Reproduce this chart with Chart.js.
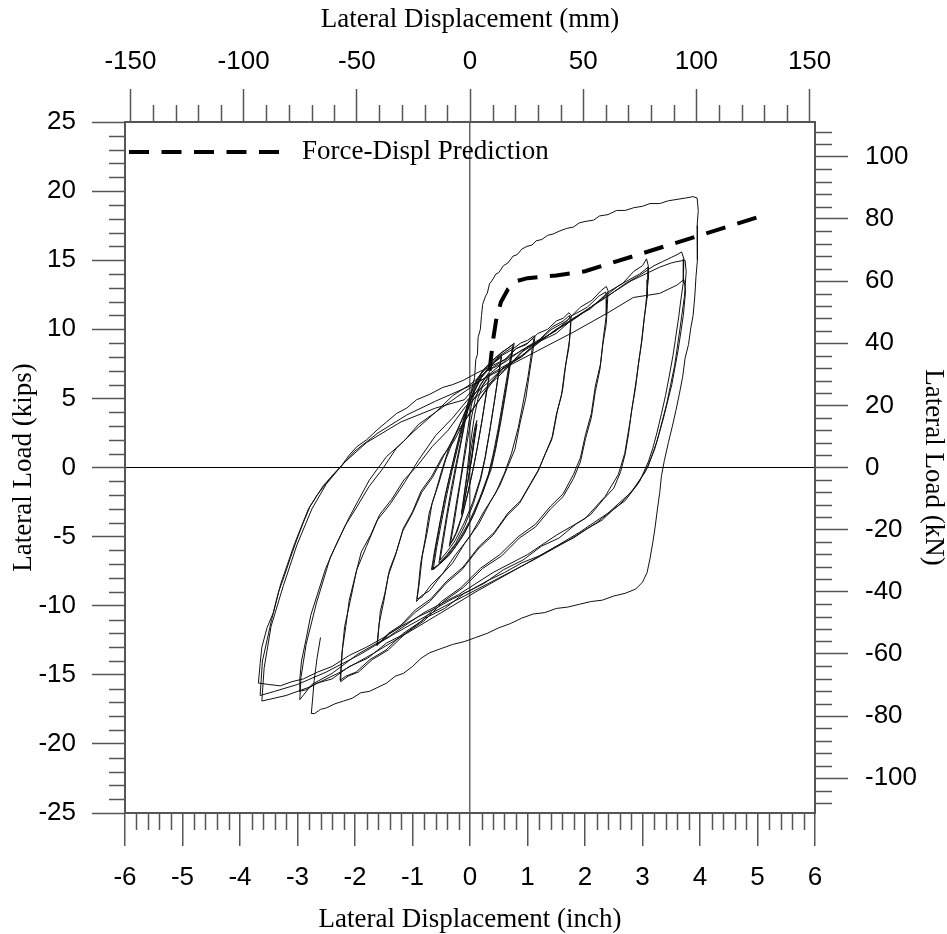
<!DOCTYPE html>
<html><head><meta charset="utf-8">
<script src="https://cdn.jsdelivr.net/npm/chart.js@4.4.0/dist/chart.umd.min.js"></script>
<style>html,body{margin:0;padding:0;background:#fff;overflow:hidden}canvas{display:block}</style>
</head><body>
<canvas id="c" width="947" height="934"></canvas>
<script>
// ---- axis tick values ----
const inchTicks = [-6,-5,-4,-3,-2,-1,0,1,2,3,4,5,6];
const mmTicks = [-150,-100,-50,0,50,100,150];
const kipTicks = [-25,-20,-15,-10,-5,0,5,10,15,20,25];
const kNTicks = [-100,-80,-60,-40,-20,0,20,40,60,80,100];
const MM_PER_IN = 25.4;
const KN_PER_KIP = 4.448;

// ---- prediction (inch, kips) ----
const predDispl = [0.34,0.4,0.46,0.54,0.66,0.82,1.0,1.5,2.0,3.0,4.0,5.0];
const predLoad  = [7.0,9.2,10.8,12.0,12.9,13.5,13.7,13.9,14.2,15.5,16.8,18.1];

// ---- measured hysteresis (inch, kips) ----
const cyclesSmall = [
[0,0],[0.04,1.0],[0.07,2.1],[0.1,2.8],[0.12,3.1],[0.08,2.0],[0.03,0.6],[-0.03,-0.8],[-0.08,-2.0],[-0.12,-2.9],[-0.14,-3.2],[-0.1,-2.0],[-0.05,-0.6],
[0.0,0.8],[0.05,2.1],[0.09,3.0],[0.12,3.4],[0.07,2.0],[0.02,0.5],[-0.04,-1.1],[-0.1,-2.5],[-0.15,-3.4],[-0.11,-2.2],[-0.06,-0.7],[-0.02,0.9],
[0.03,2.4],[0.08,3.8],[0.14,5.0],[0.22,5.9],[0.3,6.4],[0.33,6.5],[0.27,5.0],[0.2,3.2],[0.12,1.3],[0.06,0.0],[-0.03,-1.7],[-0.12,-3.3],[-0.22,-4.6],[-0.3,-5.3],[-0.34,-5.5],[-0.28,-4.1],[-0.22,-2.5],[-0.16,-0.9],[-0.1,0.6],[-0.04,2.1],
[0.02,3.5],[0.09,4.9],[0.18,6.0],[0.28,6.6],[0.34,6.8],[0.28,5.3],[0.21,3.4],[0.13,1.5],[0.06,0.0],[-0.04,-1.9],[-0.14,-3.5],[-0.25,-4.8],[-0.36,-5.7],[-0.3,-4.2],[-0.23,-2.4],[-0.16,-0.7],[-0.1,1.0],
[-0.04,2.7],[0.02,4.4],[0.08,5.6],[0.18,6.5],[0.3,7.1],[0.42,7.6],[0.52,7.9],[0.55,8.0],[0.49,6.6],[0.42,4.7],[0.34,2.6],[0.26,0.7],[0.18,-0.8],[0.05,-2.5],[-0.1,-4.0],[-0.26,-5.3],[-0.4,-6.1],[-0.5,-6.6],[-0.52,-6.7],[-0.46,-5.2],[-0.39,-3.4],[-0.31,-1.6],[-0.24,0.0],[-0.16,1.7],[-0.08,3.4],
[0.0,4.8],[0.09,5.9],[0.2,6.8],[0.33,7.4],[0.46,7.9],[0.55,8.2],[0.5,6.9],[0.43,4.9],[0.35,2.8],[0.27,0.8],[0.19,-0.8],[0.06,-2.6],[-0.09,-4.2],[-0.25,-5.5],[-0.42,-6.4],[-0.54,-6.9],[-0.48,-5.3],[-0.4,-3.3],[-0.32,-1.4],[-0.24,0.3],[-0.15,2.1],
[-0.07,3.9],[0.02,5.4],[0.12,6.4],[0.26,7.2],[0.4,7.8],[0.55,8.3],[0.68,8.7],[0.75,8.9],[0.7,7.6],[0.62,5.6],[0.53,3.4],[0.44,1.4],[0.36,0.0],[0.24,-1.6],[0.08,-3.3],[-0.1,-4.8],[-0.28,-5.9],[-0.45,-6.7],[-0.6,-7.2],[-0.66,-7.4],[-0.6,-5.9],[-0.52,-4.0],[-0.43,-2.1],[-0.34,-0.4],[-0.24,1.4],[-0.13,3.2],
[-0.03,4.8],[0.08,6.0],[0.22,7.0],[0.38,7.7],[0.54,8.3],[0.68,8.7],[0.77,9.0],[0.71,7.7],[0.63,5.6],[0.54,3.4],[0.45,1.4],[0.37,-0.1],[0.22,-1.8],[0.04,-3.6],[-0.15,-5.1],[-0.35,-6.3],[-0.53,-7.0],[-0.64,-7.4],[-0.58,-5.8],[-0.49,-3.8],[-0.4,-1.9],[-0.31,-0.2],[-0.2,1.7],
[-0.08,3.6],[0.05,5.3],[0.2,6.6],[0.38,7.5],[0.56,8.2],[0.7,8.6],[0.74,8.7],[0.67,7.2],[0.58,5.0],[0.49,2.8],[0.4,0.9],[0.32,-0.5],[0.17,-2.2],[-0.01,-3.9],[-0.2,-5.3],[-0.4,-6.4],[-0.57,-7.1],[-0.67,-7.4],[-0.61,-5.9],[-0.52,-3.9],[-0.43,-2.0],[-0.33,-0.2],[-0.22,1.6]
];
const cycles1in = [
[-0.08,3.8],[0.05,5.3],[0.2,6.5],[0.38,7.4],[0.55,8.1],[0.72,8.5],[0.88,9.0],[1.0,9.2],[1.1,9.5],[1.13,9.5],[1.1,8.6],[1.04,7.0],[0.97,5.0],[0.87,3.2],[0.78,1.3],[0.66,0.1],[0.52,-1.3],[0.35,-2.5],[0.15,-4.1],[-0.08,-5.4],[-0.3,-6.9],[-0.5,-7.8],[-0.7,-8.9],[-0.85,-9.3],[-0.93,-9.7],[-0.9,-8.7],[-0.86,-7.0],[-0.78,-5.2],[-0.71,-3.3],[-0.6,-1.8],[-0.49,-0.2],[-0.36,1.5],[-0.2,2.9],[-0.03,4.6],[0.16,5.8],[0.38,7.2],[0.6,7.8],[0.8,8.6],[0.98,8.9],[1.08,9.3],[1.11,9.3],[1.07,8.3],[1.01,6.6],[0.92,4.6],[0.84,2.9],[0.72,1.0],[0.6,-0.4],[0.44,-1.9],[0.24,-3.2],[0.0,-5.0],[-0.25,-6.3],[-0.48,-7.7],[-0.68,-8.5],[-0.84,-9.4],[-0.92,-9.5],[-0.88,-8.3],[-0.83,-6.4],[-0.74,-4.6],[-0.66,-2.6],[-0.54,-1.1],[-0.42,0.6]
];
const cycles175in = [
[-0.26,2.3],[-0.08,4.0],[0.12,5.3],[0.35,6.8],[0.58,7.6],[0.8,8.6],[1.0,9.0],[1.18,9.7],[1.35,10.0],[1.5,10.6],[1.62,10.8],[1.72,11.2],[1.76,11.0],[1.75,10.1],[1.72,8.7],[1.65,7.1],[1.59,5.2],[1.5,3.8],[1.42,2.0],[1.3,0.9],[1.18,-0.3],[1.04,-1.3],[0.86,-2.6],[0.64,-3.5],[0.4,-4.9],[0.14,-5.9],[-0.14,-7.4],[-0.42,-8.4],[-0.7,-9.7],[-0.96,-10.5],[-1.2,-11.5],[-1.4,-12.0],[-1.54,-12.6],[-1.61,-12.8],[-1.59,-11.8],[-1.56,-10.4],[-1.48,-9.1],[-1.4,-7.4],[-1.28,-6.1],[-1.16,-4.4],[-1.0,-3.2],[-0.85,-1.7],[-0.66,-0.6],[-0.48,0.8],[-0.28,1.9],[-0.05,3.7],[0.2,5.1],[0.46,6.6],[0.72,7.5],[0.98,8.7],[1.22,9.3],[1.44,10.2],[1.62,10.6],[1.73,11.0],[1.75,10.5],[1.73,9.2],[1.67,7.6],[1.61,5.6],[1.52,4.1],[1.44,2.3],[1.32,1.1],[1.2,-0.1],[1.06,-1.1],[0.88,-2.4],[0.66,-3.3],[0.42,-4.7],[0.16,-5.7],[-0.12,-7.2],[-0.4,-8.2],[-0.68,-9.5],[-0.95,-10.3],[-1.2,-11.4],[-1.42,-12.0],[-1.58,-12.7],[-1.62,-12.9],[-1.58,-11.3],[-1.5,-9.7],[-1.42,-7.8],[-1.3,-6.4],[-1.17,-4.6],[-1.0,-3.3],[-0.84,-1.8],[-0.65,-0.7]
];
const cycles24in = [
[-0.45,0.9],[-0.22,2.6],[0.05,4.2],[0.32,5.9],[0.6,7.0],[0.88,8.3],[1.15,9.0],[1.42,10.0],[1.68,10.6],[1.92,11.6],[2.12,12.1],[2.28,12.8],[2.37,13.1],[2.4,12.8],[2.39,11.8],[2.37,10.4],[2.31,8.9],[2.26,7.1],[2.18,5.5],[2.11,3.6],[2.01,2.1],[1.92,0.4],[1.8,-0.8],[1.62,-2.1],[1.4,-3.0],[1.14,-4.3],[0.86,-5.1],[0.55,-6.4],[0.22,-7.3],[-0.12,-8.7],[-0.46,-9.7],[-0.8,-11.1],[-1.12,-12.0],[-1.42,-13.2],[-1.7,-13.9],[-1.94,-14.8],[-2.12,-15.1],[-2.25,-15.5],[-2.24,-14.6],[-2.22,-13.2],[-2.16,-11.5],[-2.1,-9.6],[-2.0,-7.9],[-1.89,-6.1],[-1.73,-4.9],[-1.57,-3.4],[-1.36,-2.3],[-1.15,-0.9],[-0.92,0.1],[-0.66,1.5],[-0.38,2.7],[-0.08,4.4],[0.24,5.6],[0.56,7.1],[0.88,8.0],[1.2,9.2],[1.5,9.9],[1.78,11.0],[2.04,11.6],[2.24,12.4],[2.36,12.7],[2.38,12.2],[2.37,11.0],[2.32,9.4],[2.27,7.5],[2.18,5.9],[2.11,3.9],[2.01,2.4],[1.92,0.7],[1.8,-0.5],[1.62,-1.9],[1.4,-2.8],[1.14,-4.1],[0.84,-5.0],[0.52,-6.3],[0.18,-7.3],[-0.16,-8.7],[-0.5,-9.7],[-0.84,-11.1],[-1.16,-12.0],[-1.46,-13.2],[-1.74,-13.9],[-1.98,-14.8],[-2.16,-15.1],[-2.26,-15.4],[-2.23,-13.6],[-2.18,-11.5],[-2.08,-9.6],[-1.97,-7.4],[-1.8,-5.7],[-1.61,-3.8],[-1.38,-2.6],[-1.14,-1.1]
];
const cycles31in = [
[-0.9,0.5],[-0.6,2.3],[-0.3,3.6],[0.0,5.1],[0.3,6.1],[0.6,7.3],[0.9,8.0],[1.2,9.1],[1.5,9.7],[1.8,10.8],[2.1,11.5],[2.4,12.7],[2.65,13.3],[2.85,14.2],[3.0,14.6],[3.07,15.1],[3.1,14.6],[3.09,13.6],[3.08,12.3],[3.03,10.8],[2.99,9.2],[2.93,7.5],[2.88,5.8],[2.81,4.1],[2.76,2.5],[2.7,1.0],[2.62,-0.3],[2.5,-1.5],[2.32,-2.3],[2.1,-3.4],[1.84,-4.1],[1.55,-5.1],[1.24,-5.7],[0.92,-6.7],[0.58,-7.4],[0.24,-8.4],[-0.1,-9.1],[-0.44,-10.2],[-0.78,-10.9],[-1.12,-12.0],[-1.45,-12.7],[-1.78,-13.8],[-2.1,-14.4],[-2.4,-15.3],[-2.66,-15.6],[-2.86,-16.1],[-2.97,-16.2],[-2.96,-15.3],[-2.93,-14.0],[-2.85,-12.4],[-2.77,-10.7],[-2.64,-9.0],[-2.51,-7.3],[-2.34,-5.7],[-2.17,-4.2],[-1.96,-2.8],[-1.76,-1.4],[-1.52,-0.1],[-1.28,1.4],[-0.98,2.6],[-0.6,4.0],[-0.23,5.1],[0.3,6.6],[0.9,8.1],[1.5,10.0],[2.1,11.6],[2.6,13.2],[2.95,14.0],[3.1,14.5],[3.1,13.6],[3.05,11.5],[2.98,9.0],[2.89,6.3],[2.79,3.5],[2.69,1.0],[2.58,-0.5],[2.35,-2.1],[2.0,-3.7],[1.5,-4.9],[1.0,-6.3],[0.4,-7.6],[-0.2,-9.2],[-0.8,-10.5],[-1.4,-12.2],[-1.95,-13.5],[-2.4,-14.9],[-2.75,-15.7],[-2.96,-16.8],[-2.94,-15.2],[-2.85,-12.8],[-2.67,-9.8],[-2.43,-6.5],[-2.1,-3.6],[-1.75,-0.9]
];
const cycles37in = [
[-1.45,0.8],[-1.15,1.9],[-0.9,3.1],[-0.6,4.0],[-0.3,5.2],[0.0,6.0],[0.3,7.0],[0.6,7.6],[0.9,8.5],[1.2,9.1],[1.5,10.0],[1.8,10.7],[2.1,11.6],[2.4,12.4],[2.7,13.3],[2.95,13.9],[3.2,14.6],[3.35,14.9],[3.5,15.2],[3.6,15.4],[3.68,15.6],[3.72,15.1],[3.71,13.4],[3.66,11.9],[3.63,10.9],[3.57,9.2],[3.53,8.1],[3.46,6.5],[3.4,5.2],[3.33,3.9],[3.25,2.5],[3.18,1.4],[3.1,0.4],[2.95,-1.0],[2.7,-2.4],[2.5,-3.0],[2.3,-3.8],[2.05,-4.4],[1.8,-5.1],[1.5,-5.7],[1.2,-6.4],[0.9,-6.9],[0.6,-7.6],[0.3,-8.2],[0.0,-8.9],[-0.3,-9.5],[-0.6,-10.2],[-0.9,-10.8],[-1.2,-11.5],[-1.5,-12.3],[-1.8,-13.0],[-2.1,-13.6],[-2.4,-14.4],[-2.65,-14.8],[-2.9,-15.3],[-3.1,-15.5],[-3.3,-15.8],[-3.5,-15.7],[-3.68,-15.6],[-3.65,-14.2],[-3.62,-13.0],[-3.53,-11.6],[-3.42,-10.5],[-3.33,-9.0],[-3.25,-8.1],[-3.12,-6.5],[-3.01,-5.2],[-2.9,-4.0],[-2.78,-2.8],[-2.66,-2.0],[-2.55,-1.4],[-2.4,-0.6],[-2.24,0.1],[-2.1,0.9],[-1.97,1.5],[-1.8,2.0],[-1.62,2.7],[-1.45,3.3],[-1.28,3.9],[-1.1,4.3],[-0.93,4.9],[-0.7,5.3],[-0.47,5.8],[-0.3,6.0],[-0.12,6.3],[0.1,6.8],[0.4,7.4],[0.7,8.0],[1.0,8.7],[1.3,9.4],[1.6,10.2],[1.9,11.0],[2.2,11.9],[2.5,12.7],[2.8,13.5],[3.05,14.0],[3.3,14.5],[3.5,14.8],[3.6,14.9],[3.74,15.0],[3.76,14.2],[3.73,12.4],[3.65,10.0],[3.56,7.4],[3.42,4.6],[3.26,2.0],[3.1,0.1],[2.9,-1.3],[2.6,-2.7],[2.2,-4.0],[1.7,-5.3],[1.1,-6.7],[0.5,-8.0],[-0.1,-9.3],[-0.7,-10.6],[-1.3,-12.0],[-1.9,-13.5],[-2.5,-14.8],[-3.0,-15.7],[-3.4,-16.2],[-3.65,-16.5],[-3.61,-14.0],[-3.45,-11.0],[-3.29,-8.4],[-3.05,-5.5],[-2.81,-3.0],[-2.55,-1.3],[-2.26,0.0],[-2.0,1.2],[-1.6,2.5],[-1.1,3.8],[-0.6,4.8],[0.0,5.9],[0.6,7.2],[1.2,8.5],[1.8,9.8],[2.4,11.2],[2.84,12.3],[3.3,12.6],[3.6,13.2],[3.72,13.6],[3.75,12.8],[3.71,11.0],[3.62,8.5],[3.51,6.0],[3.36,3.5],[3.21,1.3],[3.05,-0.3],[2.8,-1.8],[2.4,-3.3],[1.9,-4.7],[1.3,-6.2],[0.7,-7.6],[0.1,-9.0],[-0.5,-10.5],[-1.1,-12.0],[-1.7,-13.5],[-2.3,-14.9],[-2.8,-15.9],[-3.2,-16.5],[-3.62,-16.9],[-3.58,-14.5],[-3.46,-11.5],[-3.25,-8.6],[-3.01,-5.6],[-2.75,-3.0],[-2.5,-1.2],[-2.2,0.3],[-1.8,1.8],[-1.2,3.3],[-0.6,4.3],[-0.1,4.9]
];
const finalCycle = [
[0.02,5.5],[0.08,6.5],[0.1,7.8],[0.13,8.2],[0.14,9.4],[0.18,10.0],[0.2,11.0],[0.22,11.8],[0.27,12.4],[0.3,12.6],[0.34,13.3],[0.38,13.5],[0.45,14.0],[0.5,14.1],[0.58,14.6],[0.66,14.8],[0.75,15.3],[0.82,15.4],[0.9,15.8],[0.99,16.0],[1.08,16.1],[1.15,16.4],[1.25,16.5],[1.35,16.8],[1.45,16.9],[1.55,17.1],[1.68,17.3],[1.8,17.4],[1.9,17.7],[2.0,17.8],[2.15,17.9],[2.25,18.2],[2.4,18.3],[2.55,18.6],[2.7,18.6],[2.85,18.8],[3.0,18.9],[3.13,19.1],[3.3,19.1],[3.45,19.3],[3.6,19.4],[3.75,19.5],[3.88,19.6],[3.95,19.5],[3.97,18.6],[3.95,17.5],[3.96,16.2],[3.95,15.0],[3.93,13.8],[3.91,12.4],[3.88,11.0],[3.84,10.1],[3.8,8.9],[3.74,7.9],[3.7,6.6],[3.64,5.3],[3.58,4.1],[3.52,3.0],[3.45,1.8],[3.38,0.5],[3.33,-0.6],[3.3,-1.8],[3.26,-3.0],[3.22,-4.3],[3.18,-5.4],[3.13,-6.6],[3.08,-7.6],[3.0,-8.3],[2.88,-8.8],[2.7,-9.1],[2.5,-9.3],[2.3,-9.6],[2.1,-9.7],[1.9,-9.9],[1.7,-10.1],[1.5,-10.2],[1.3,-10.5],[1.1,-10.6],[0.9,-10.9],[0.7,-11.3],[0.5,-11.6],[0.3,-12.0],[0.1,-12.3],[-0.1,-12.6],[-0.3,-12.8],[-0.5,-13.1],[-0.7,-13.4],[-0.85,-13.8],[-1.0,-14.4],[-1.16,-14.9],[-1.3,-15.1],[-1.45,-15.6],[-1.6,-15.9],[-1.75,-16.2],[-1.9,-16.3],[-2.05,-16.7],[-2.2,-16.9],[-2.35,-17.1],[-2.5,-17.4],[-2.6,-17.5],[-2.7,-17.8],[-2.76,-17.8],[-2.74,-16.9],[-2.71,-15.4],[-2.66,-13.8],[-2.6,-12.3]
];

const testCurve = [].concat(cyclesSmall, cycles1in, cycles175in, cycles24in, cycles31in, cycles37in, finalCycle)
  .map(([x, y]) => ({x, y}));
const predCurve = predDispl.map((x, i) => ({x, y: predLoad[i]}));

// ---- plugins ----
const minorTicks = {
  id: 'minorTicks',
  afterDraw(chart) {
    const ctx = chart.ctx;
    const defs = [['x', 0.2], ['xTop', 10], ['y', 1], ['yRight', 4]];
    ctx.save();
    ctx.strokeStyle = '#555';
    ctx.lineWidth = 1.5;
    for (const [id, step] of defs) {
      const s = chart.scales[id];
      const majors = s.ticks.map(t => t.value);
      const a = Math.ceil(s.min / step - 1e-9), b = Math.floor(s.max / step + 1e-9);
      for (let i = a; i <= b; i++) {
        const v = i * step;
        if (majors.some(m => Math.abs(m - v) < 1e-6)) continue;
        const p = Math.round(s.getPixelForValue(v)) + 0.5;
        ctx.beginPath();
        if (s.position === 'bottom') { ctx.moveTo(p, s.top); ctx.lineTo(p, s.top + 17); }
        else if (s.position === 'top') { ctx.moveTo(p, s.bottom); ctx.lineTo(p, s.bottom - 17); }
        else if (s.position === 'left') { ctx.moveTo(s.right, p); ctx.lineTo(s.right - 16, p); }
        else { ctx.moveTo(s.left, p); ctx.lineTo(s.left + 17, p); }
        ctx.stroke();
      }
    }
    ctx.restore();
  }
};
const lineLegend = {
  id: 'lineLegend',
  afterDraw(chart) {
    const {ctx, chartArea} = chart;
    const ds = chart.data.datasets[1];
    const y = chartArea.top + 30;
    ctx.save();
    ctx.strokeStyle = ds.borderColor;
    ctx.lineWidth = ds.borderWidth;
    ctx.setLineDash(ds.borderDash);
    ctx.beginPath();
    ctx.moveTo(chartArea.left + 4, y);
    ctx.lineTo(chartArea.left + 155, y);
    ctx.stroke();
    ctx.setLineDash([]);
    ctx.fillStyle = '#000';
    ctx.font = '27px "Liberation Serif", "Times New Roman", serif';
    ctx.textBaseline = 'middle';
    ctx.textAlign = 'left';
    ctx.fillText(ds.label, chartArea.left + 177, y - 0.5);
    ctx.restore();
  }
};

const tickFont = {family: '"Liberation Sans", Arial, sans-serif', size: 26};
const titleFont = {family: '"Liberation Serif", "Times New Roman", serif', size: 27, lineHeight: 1};
const setTicks = arr => scale => { scale.ticks = arr.map(v => ({value: v})); };
const gridOuter = {display: true, drawOnChartArea: false, drawTicks: true, tickLength: 33, tickColor: '#555', tickWidth: 1.5};
const borderOpt = {display: true, color: '#555', width: 2};

new Chart(document.getElementById('c'), {
  type: 'scatter',
  data: {
    datasets: [
      {label: 'Test', data: testCurve, showLine: true, borderColor: '#111', borderWidth: 1, pointRadius: 0, tension: 0, xAxisID: 'x', yAxisID: 'y'},
      {label: 'Force-Displ Prediction', data: predCurve, showLine: true, borderColor: '#000', borderWidth: 4, borderDash: [20, 12.5], borderCapStyle: 'butt', pointRadius: 0, tension: 0, xAxisID: 'x', yAxisID: 'y'}
    ]
  },
  options: {
    responsive: false,
    animation: false,
    devicePixelRatio: 1,
    layout: {padding: 0},
    plugins: {legend: {display: false}, tooltip: {enabled: false}},
    scales: {
      x: {
        type: 'linear', position: 'bottom', min: -6, max: 6,
        afterBuildTicks: setTicks(inchTicks),
        afterFit: s => { s.height = 121; },
        ticks: {font: tickFont, color: '#000', padding: 16, autoSkip: false, maxRotation: 0, minRotation: 0, callback: v => String(v)},
        grid: {display: true, drawOnChartArea: true, drawTicks: true, tickLength: 33, tickColor: '#555', tickWidth: 1.5,
               color: c => (c.tick && c.tick.value === 0) ? '#666' : 'rgba(0,0,0,0)', lineWidth: 1.5},
        border: borderOpt,
        title: {display: true, text: 'Lateral Displacement (inch)', font: titleFont, color: '#000', padding: {top: 0, bottom: 1}}
      },
      xTop: {
        type: 'linear', position: 'top', min: -6 * MM_PER_IN, max: 6 * MM_PER_IN,
        afterBuildTicks: setTicks(mmTicks),
        afterFit: s => { s.height = 122; },
        ticks: {font: tickFont, color: '#000', padding: 12, autoSkip: false, maxRotation: 0, minRotation: 0, callback: v => String(v)},
        grid: gridOuter,
        border: borderOpt,
        title: {display: true, text: 'Lateral Displacement (mm)', font: titleFont, color: '#000', padding: {top: 6, bottom: 0}}
      },
      y: {
        type: 'linear', position: 'left', min: -25, max: 25,
        afterBuildTicks: setTicks(kipTicks),
        afterFit: s => { s.width = 125; },
        ticks: {font: tickFont, color: '#000', padding: 16, autoSkip: false, callback: v => String(v)},
        grid: {display: true, drawOnChartArea: true, drawTicks: true, tickLength: 33, tickColor: '#555', tickWidth: 1.5,
               color: c => (c.tick && c.tick.value === 0) ? '#000' : 'rgba(0,0,0,0)', lineWidth: 1},
        border: borderOpt,
        title: {display: true, text: 'Lateral Load (kips)', font: titleFont, color: '#000', padding: {top: 10, bottom: 0}}
      },
      yRight: {
        type: 'linear', position: 'right', min: -25 * KN_PER_KIP, max: 25 * KN_PER_KIP,
        afterBuildTicks: setTicks(kNTicks),
        afterFit: s => { s.width = 132; },
        ticks: {font: tickFont, color: '#000', padding: 17, autoSkip: false, callback: v => String(v)},
        grid: gridOuter,
        border: borderOpt,
        title: {display: true, text: 'Lateral Load (kN)', font: titleFont, color: '#000', padding: {top: 0, bottom: 0}}
      }
    }
  },
  plugins: [minorTicks, lineLegend]
});
</script>
</body></html>
